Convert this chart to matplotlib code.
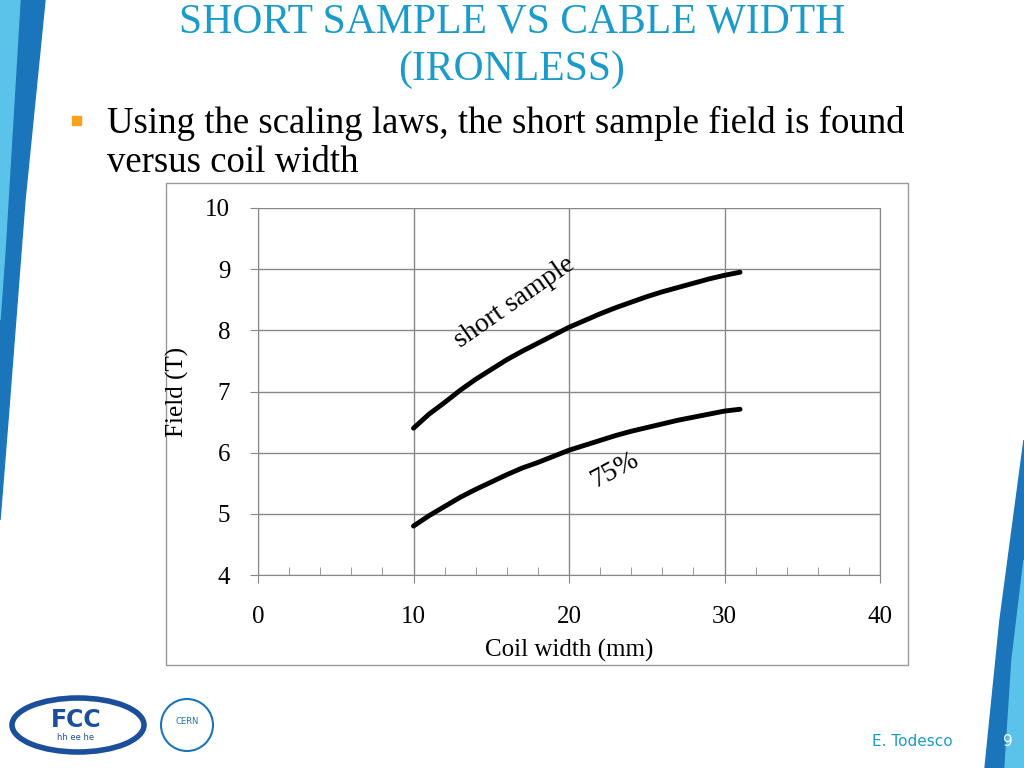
import matplotlib.pyplot as plt
from matplotlib.patches import Polygon, Rectangle, Ellipse, Circle
from matplotlib.ticker import MultipleLocator

width_mm = [10, 11, 12, 13, 14, 15, 16, 17, 18, 19, 20, 21, 22, 23, 24, 25, 26, 27, 28, 29, 30, 31]
short_sample = [6.40, 6.63, 6.82, 7.02, 7.20, 7.36, 7.52, 7.66, 7.79, 7.92, 8.05, 8.16,
                8.27, 8.37, 8.46, 8.55, 8.63, 8.70, 8.77, 8.84, 8.90, 8.95]
pct75 = [4.80, 4.97, 5.12, 5.27, 5.40, 5.52, 5.64, 5.75, 5.84, 5.94, 6.04, 6.12,
         6.20, 6.28, 6.35, 6.41, 6.47, 6.53, 6.58, 6.63, 6.68, 6.71]

W, H = 1024, 768
fig = plt.figure(figsize=(W / 100, H / 100), dpi=100)
serif = "Liberation Serif"

# slide decoration
bg = fig.add_axes([0, 0, 1, 1])
bg.set_xlim(0, W); bg.set_ylim(H, 0); bg.axis("off")
bg.add_patch(Polygon([(0, 0), (45, 0), (25, 200), (8, 420), (0, 520)], color="#1b75bb"))
bg.add_patch(Polygon([(0, 0), (20, 0), (5, 250), (0, 320)], color="#5bc3ea"))
bg.add_patch(Polygon([(1024, 440), (1024, 768), (985, 768), (1000, 620)], color="#1b75bb"))
bg.add_patch(Polygon([(1024, 560), (1024, 768), (1005, 768), (1012, 660)], color="#5bc3ea"))
bg.add_patch(Rectangle((166, 183), 742, 482, fill=False, ec="#999999", lw=1))
bg.text(512, 22, "SHORT SAMPLE VS CABLE WIDTH", color="#1a9bc9", fontsize=30,
        family=serif, ha="center", va="center")
bg.text(512, 70, "(IRONLESS)", color="#1a9bc9", fontsize=30, family=serif,
        ha="center", va="center")
bg.add_patch(Rectangle((72, 116), 9, 9, color="#f7a21b"))
bg.text(107, 123, "Using the scaling laws, the short sample field is found",
        fontsize=26.5, family=serif, va="center")
bg.text(107, 163, "versus coil width", fontsize=26.5, family=serif, va="center")
bg.add_patch(Ellipse((78, 725), 132, 54, fc="white", ec="#1b4f9c", lw=4))
bg.text(76, 720, "FCC", fontsize=17, color="#1b4f9c", ha="center", va="center", weight="bold")
bg.text(76, 738, "hh ee he", fontsize=6, color="#1b4f9c", ha="center", va="center")
bg.add_patch(Circle((187, 725), 26, fc="white", ec="#1b75bb", lw=1.5))
bg.text(187, 722, "CERN", fontsize=6, color="#1b75bb", ha="center", va="center")
bg.text(912, 742, "E. Todesco", fontsize=11, color="#1a9bc9", ha="center", va="center")
bg.text(1008, 742, "9", fontsize=11, color="white", ha="center", va="center")

# chart
ax = fig.add_axes([258 / W, 1 - 575 / H, 622 / W, 367 / H])
ax.plot(width_mm, short_sample, color="black", lw=3.5, solid_capstyle="round")
ax.plot(width_mm, pct75, color="black", lw=3.5, solid_capstyle="round")
ax.set_xlim(0, 40); ax.set_ylim(4, 10)
ax.xaxis.set_major_locator(MultipleLocator(10))
ax.xaxis.set_minor_locator(MultipleLocator(2))
ax.yaxis.set_major_locator(MultipleLocator(1))
ax.grid(True, which="major", color="#888888", lw=1)
ax.spines["top"].set_visible(False)
for s in ["left", "bottom", "right"]:
    ax.spines[s].set_color("#888888")
ax.tick_params(axis="y", which="major", length=6, color="#888888", labelsize=18, pad=14)
ax.tick_params(axis="x", which="major", length=6, color="#888888", labelsize=18, pad=16)
ax.tick_params(axis="x", which="minor", direction="in", length=6, color="#888888")
for lab in ax.get_xticklabels() + ax.get_yticklabels():
    lab.set_family(serif)
ax.set_xlabel("Coil width (mm)", fontsize=18, family=serif, labelpad=8)
ax.set_ylabel("Field (T)", fontsize=18, family=serif, labelpad=12)
ax.text(16.5, 8.45, "short sample", rotation=35, fontsize=20, family=serif,
        ha="center", va="center")
ax.text(22.9, 5.72, "75%", rotation=28, fontsize=20, family=serif,
        ha="center", va="center")

fig.savefig("out.png", dpi=100)
